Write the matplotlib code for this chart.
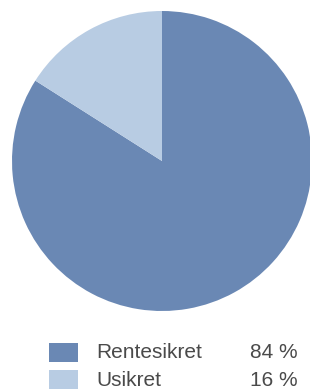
import matplotlib.pyplot as plt
from matplotlib.patches import Rectangle

labels = ['Rentesikret', 'Usikret']
shares = [84, 16]
pct_text = ['84 %', '16 %']
colors = ['#6a88b4', '#b8cce3']

W, H = 310, 392
fig = plt.figure(figsize=(W / 100, H / 100), dpi=100)

# pie
ax = fig.add_axes([12 / W, (H - 311) / H, 300 / W, 300 / H])
ax.pie(shares, colors=colors, startangle=90, counterclock=False,
       wedgeprops=dict(linewidth=0))
ax.set_xlim(-1, 1)
ax.set_ylim(-1, 1)
ax.set_aspect('equal')
ax.axis('off')

# legend drawn by hand (label + percent columns)
lax = fig.add_axes([0, 0, 1, 1])
lax.set_xlim(0, W)
lax.set_ylim(H, 0)
lax.axis('off')
for i, (lab, pct, col) in enumerate(zip(labels, pct_text, colors)):
    y0 = 343 + i * 27
    lax.add_patch(Rectangle((49, y0), 29, 19, facecolor=col, edgecolor='none'))
    lax.text(96, y0 + 10, lab, fontsize=15, color='#4a4a4a', va='center',
             family='Liberation Sans')
    lax.text(298, y0 + 10, pct, fontsize=15, color='#4a4a4a', va='center',
             ha='right', family='Liberation Sans')

fig.savefig('out.png', dpi=100)
